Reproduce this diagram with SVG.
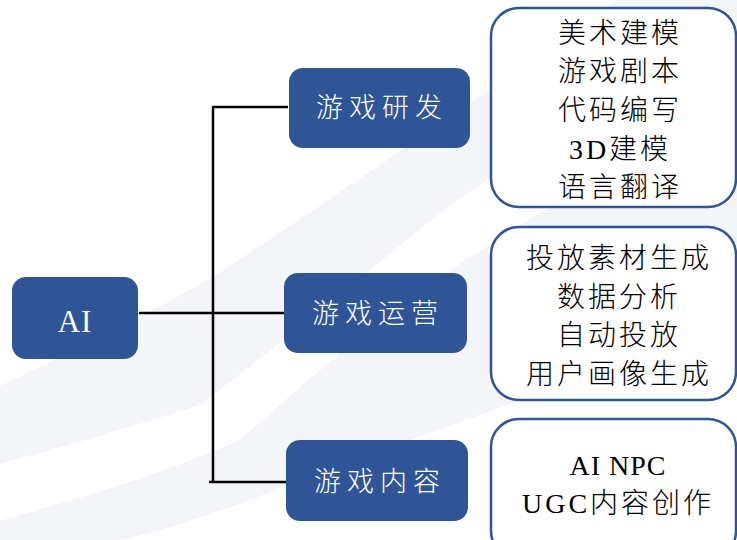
<svg xmlns="http://www.w3.org/2000/svg" width="737" height="540" viewBox="0 0 737 540">
<style>
.bg{fill:#f3f5f9;stroke:none}
.blue{fill:#2f5597}
.card{fill:#ffffff;stroke:#2f5597;stroke-width:2.5}
.lt{font-family:"Liberation Serif","Noto Sans CJK SC",serif;font-weight:300;fill:#ffffff;font-size:27px;letter-spacing:6px;text-anchor:middle;dominant-baseline:central}
.rt{font-family:"Liberation Serif","Noto Sans CJK SC",serif;font-weight:300;fill:#000000;font-size:28px;letter-spacing:3px;text-anchor:middle;dominant-baseline:central}
.ln{stroke:#000000;stroke-width:2.5;fill:none}
</style>
<rect width="737" height="540" fill="#ffffff"/>
<path class="bg" d="M-5,388 Q120,330 213,277 Q420,140 617,0 L737,0 L737,40 Q520,140 380,262 Q260,360 200,405 Q90,440 -5,465 Z"/>
<path class="bg" d="M-5,522 Q150,480 240,440 Q330,360 390,312 Q560,190 737,110 L737,330 Q600,370 480,415 Q350,460 250,500 Q170,530 100,545 L-5,545 Z"/>
<g id="connectors">
<path class="ln" d="M213,107 L288,107"/>
<path class="ln" d="M213,106 L213,482"/>
<path class="ln" d="M139,313 L285,313"/>
<path class="ln" d="M209,482 L286,482"/>
</g>
<g id="ai">
<rect class="blue" x="12" y="277" width="126" height="82" rx="14"/>
<text class="lt" x="75" y="321" style="font-size:31px;letter-spacing:1px">AI</text>
</g>
<g id="dev">
<rect class="blue" x="289" y="68" width="181" height="80" rx="14"/>
<text class="lt" x="382" y="108">游戏研发</text>
</g>
<g id="ops">
<rect class="blue" x="284" y="273" width="183" height="80" rx="14"/>
<text class="lt" x="378" y="314">游戏运营</text>
</g>
<g id="content">
<rect class="blue" x="286" y="440" width="182" height="81" rx="14"/>
<text class="lt" x="380" y="482">游戏内容</text>
</g>
<g id="dev-items">
<rect class="card" x="491" y="8" width="245" height="199" rx="28"/>
<text class="rt" x="620" y="33">美术建模</text>
<text class="rt" x="620" y="71">游戏剧本</text>
<text class="rt" x="620" y="110">代码编写</text>
<text class="rt" x="620" y="149">3D建模</text>
<text class="rt" x="620" y="187">语言翻译</text>
</g>
<g id="ops-items">
<rect class="card" x="491" y="227" width="245" height="173" rx="28"/>
<text class="rt" x="619" y="258">投放素材生成</text>
<text class="rt" x="619" y="297">数据分析</text>
<text class="rt" x="619" y="335">自动投放</text>
<text class="rt" x="619" y="374">用户画像生成</text>
</g>
<g id="content-items">
<rect class="card" x="491" y="419" width="245" height="140" rx="28"/>
<text class="rt" x="618" y="465" style="letter-spacing:1px">AI NPC</text>
<text class="rt" x="618" y="503">UGC内容创作</text>
</g>
</svg>
